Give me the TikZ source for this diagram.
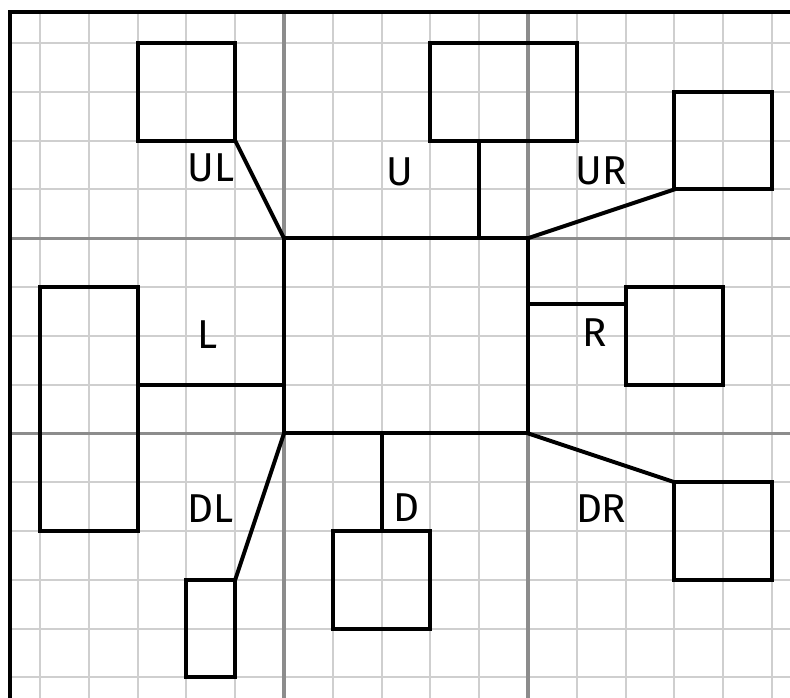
\documentclass[tikz,border=0pt]{standalone}
\usepackage{fontspec}
\setmainfont{Fira Sans}
\usetikzlibrary{calc}
\definecolor{gridlight}{HTML}{CFCFCF}
\definecolor{gridmajor}{HTML}{8C8C8C}
\begin{document}
\begin{tikzpicture}[x=1cm,y=1cm,
  box/.style={draw=black, line width=2.3pt, inner sep=0pt, outer sep=0pt},
  conn/.style={draw=black, line width=2.3pt, line cap=rect},
  lbl/.style={inner sep=0pt, font=\fontsize{23.5}{28}\selectfont},
  minorline/.style={draw=gridlight, line width=1.1pt},
  majorline/.style={draw=gridmajor, line width=1.8pt}]
\useasboundingbox (-0.8197,0.881) rectangle (15.369,-13.422);
\clip (-0.8197,0.881) rectangle (15.369,-13.422);
% grid
\foreach \i in {0,...,15} {\draw[minorline] (\i,0.635) -- (\i,-14);}
\foreach \j in {0,...,13} {\draw[minorline] (-0.615,-\j) -- (16,-\j);}
\foreach \i in {5,10} {\draw[majorline] (\i,0.635) -- (\i,-14);}
\foreach \j in {4,8} {\draw[majorline] (-0.615,-\j) -- (16,-\j);}
% border
\draw[line width=2.3pt] (-0.615,-14) -- (-0.615,0.635) -- (16,0.635);
% boxes
\node[box, minimum width=5cm, minimum height=4cm] (c) at (7.5,-6) {};
\node[box, minimum width=2cm, minimum height=2cm] (ul) at (3,-1) {};
\node[box, minimum width=3cm, minimum height=2cm] (u) at (9.5,-1) {};
\node[box, minimum width=2cm, minimum height=2cm] (ur) at (14,-2) {};
\node[box, minimum width=2cm, minimum height=5cm] (l) at (1,-7.5) {};
\node[box, minimum width=2cm, minimum height=2cm] (r) at (13,-6) {};
\node[box, minimum width=1cm, minimum height=2cm] (dl) at (3.5,-12) {};
\node[box, minimum width=2cm, minimum height=2cm] (d) at (7,-11) {};
\node[box, minimum width=2cm, minimum height=2cm] (dr) at (14,-10) {};
% connectors
\coordinate (uc) at ($(u.south west)+(1,0)$);
\coordinate (lc) at ($(l.north east)+(0,-2)$);
\coordinate (rc) at ($(c.north east)+(0,-1.35)$);
\draw[conn] (ul.south east) -- (c.north west);
\draw[conn] (uc) -- (uc |- c.north);
\draw[conn] (c.north east) -- (ur.south west);
\draw[conn] (lc) -- (lc -| c.west);
\draw[conn] (rc) -- (rc -| r.west);
\draw[conn] (c.south west) -- (dl.north east);
\draw[conn] (d.north) -- (d.north |- c.south);
\draw[conn] (c.south east) -- (dr.north west);
% labels
\node[lbl] (tul) at (3.5,-2.56) {UL};
\node[lbl] (tu) at (7.38,-2.64) {U};
\node[lbl] (tur) at (11.5,-2.62) {UR};
\node[lbl] (tl) at (3.44,-5.98) {L};
\node[lbl] (tr) at (11.37,-5.94) {R};
\node[lbl] (tdl) at (3.5,-9.55) {DL};
\node[lbl] (td) at (7.5,-9.53) {D};
\node[lbl] (tdr) at (11.5,-9.55) {DR};
\end{tikzpicture}
\end{document}
